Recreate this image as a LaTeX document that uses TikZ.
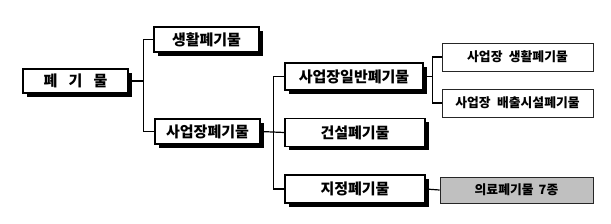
\documentclass[tikz,border=0pt]{standalone}
\usepackage{fontspec}
\setmainfont{Noto Sans CJK KR}
\usepackage{tikz}
\usepackage{xcolor}
\usetikzlibrary{positioning,shadows}
\definecolor{WGray}{HTML}{C0C0C0}
\tikzset{
  wbox/.style={draw=black,line width=1.1pt,fill=white,inner sep=0pt,font=\fontsize{15}{16}\selectfont\bfseries,
    drop shadow={shadow xshift=3.6pt,shadow yshift=-3.6pt,fill=black,opacity=1}},
  subbox/.style={draw=black!85,line width=0.9pt,fill=white,inner sep=0pt,minimum width=151pt,minimum height=28pt,
    font=\fontsize{12.8}{13}\selectfont\bfseries},
  link/.style={line width=1.2pt}
}
\begin{document}
\begin{tikzpicture}[x=1pt,y=-1pt]
  \useasboundingbox (0,0) rectangle (611,223);
  \node[wbox,minimum width=105pt,minimum height=24pt] (waste) at (75.5,81) {폐\hspace{0.75em}기\hspace{0.75em}물};
  \node[wbox,minimum width=105pt,minimum height=25pt] (household) at (206.5,39.5) {생활폐기물};
  \node[wbox,minimum width=105pt,minimum height=25pt] (business) at (207.5,131.5) {사업장폐기물};
  \node[wbox,minimum width=138pt,minimum height=27pt] (general) at (354,76.5) {사업장일반폐기물};
  \node[wbox,minimum width=140pt,minimum height=28pt] (construct) at (355,132.5) {건설폐기물};
  \node[wbox,minimum width=140pt,minimum height=28pt] (designated) at (355,189) {지정폐기물};
  \node[subbox] (bizhouse) at (517.5,57) {사업장\hspace{0.5em}생활폐기물};
  \node[subbox] (bizfacility) at (517.5,103) {사업장\hspace{0.5em}배출시설폐기물};
  \node[subbox,fill=WGray,minimum width=153pt,minimum height=26pt] (medical) at (516.5,190) {의료폐기물\hspace{0.4em}7종};
  \draw[link] (waste.east) -- ++(15,0) coordinate (j1);
  \draw[link] (household.west) -| (j1) |- (business.west);
  \draw[link] (business.east) -- (construct.west);
  \draw[link] (general.west) -- ++(-11,0) |- (designated.west);
  \draw[link] (general.east) -- ++(9,0) coordinate (j2);
  \draw[link] (bizhouse.west) -| (j2) |- (bizfacility.west);
  \draw[link] (designated.east) -- (medical.west);
\end{tikzpicture}
\end{document}
